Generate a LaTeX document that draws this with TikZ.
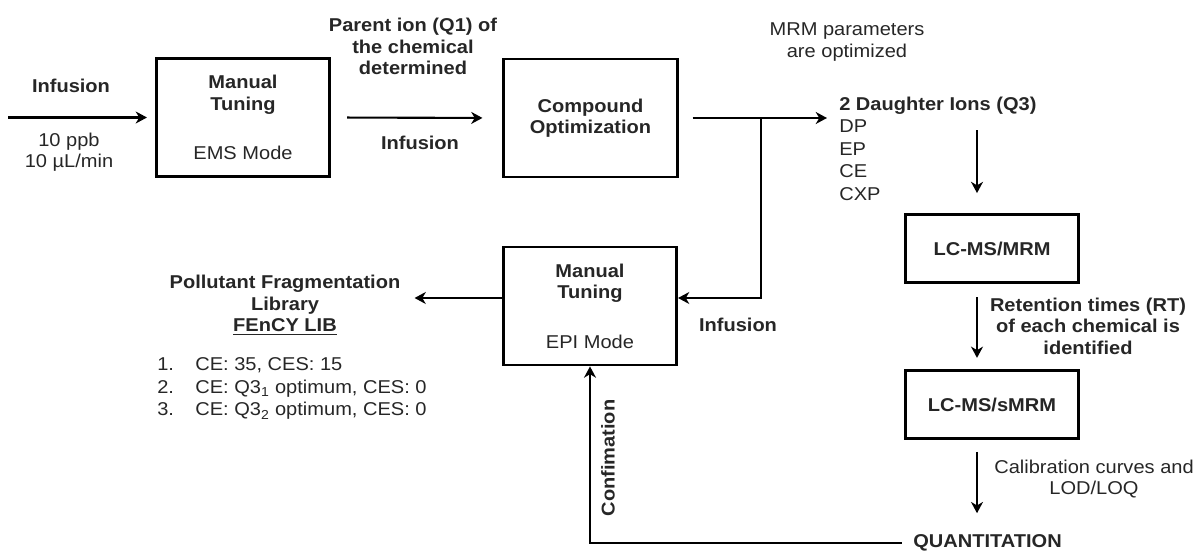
\documentclass[tikz,border=0pt]{standalone}
\usepackage{fontspec}
\setmainfont{Liberation Sans}[FakeStretch=1.08]
\usetikzlibrary{arrows.meta}

\newcommand\taille{\fontsize{13.2}{15.3}\selectfont}
\newcommand\tailleListe{\fontsize{13.2}{16}\selectfont}

\tikzset{
  boite/.style={draw, line width=2pt, minimum width=4.33cm, inner sep=0pt, align=center, font=\taille},
  grande/.style={boite, minimum height=2.95cm},
  petite/.style={boite, minimum height=1.7cm},
  texte/.style={inner sep=0pt, align=center, font=\taille},
  gras/.style={texte, font=\taille\bfseries},
  fleche/.style={line width=1.5pt, -{Stealth[length=8pt,width=8.5pt,inset=2.5pt]}},
}

\begin{document}
\begin{tikzpicture}[x=0.025cm, y=-0.025cm, text=black!85]
  \useasboundingbox (0,0) rectangle (1196,552);

  % les boites
  \node[grande] (EMSBox) at (243,117.5) {\textbf{Manual}\\\textbf{Tuning}\\[20pt]EMS Mode};
  \node[grande] (compBox) at (590.5,118) {\textbf{Compound}\\\textbf{Optimization}};
  \node[grande] (EPIBox) at (590,306) {\textbf{Manual}\\\textbf{Tuning}\\[20pt]EPI Mode};
  \node[petite] (MRMBox) at (992,248.5) {\textbf{LC-MS/MRM}};
  \node[petite] (sMRMBox) at (992,404.5) {\textbf{LC-MS/sMRM}};

  % les textes
  \node[gras] (infusionIn) at (71,86) {Infusion};
  \node[texte] (debit) at (69,152) {10 ppb\\10 µL/min};
  \node[gras] (parentIon) at (413,46.5) {Parent ion (Q1) of\\the chemical\\determined};
  \node[gras] (infusionMid) at (420,143) {Infusion};
  \node[texte] (MRMParams) at (847,42) {MRM parameters\\are optimized};
  \node[gras, anchor=west] (daughter) at (839,106) {2 Daughter Ions (Q3)};
  \node[texte, align=left, anchor=north west, font=\tailleListe] (params) at (839,119.5) {DP\\EP\\CE\\CXP};
  \node[gras] (retention) at (1088,326) {Retention times (RT)\\of each chemical is\\identified};
  \node[texte] (calibration) at (1094,479) {Calibration curves and\\LOD/LOQ};
  \node[gras, anchor=west] (quant) at (913,543) {QUANTITATION};
  \node[gras] (infusionEPI) at (738,325) {Infusion};
  \node[gras, rotate=90] (confirmation) at (608,458) {Confimation};
  \node[gras] (library) at (285,305) {Pollutant Fragmentation\\Library\\\underline{FEnCY LIB}};
  \node[texte, align=left, anchor=north west, font=\tailleListe] (libList) at (157,357.5)
    {\makebox[0.95cm][l]{1.}CE: 35, CES: 15\\
     \makebox[0.95cm][l]{2.}CE: Q3\textsubscript{1} optimum, CES: 0\\
     \makebox[0.95cm][l]{3.}CE: Q3\textsubscript{2} optimum, CES: 0};

  % points de passage des fleches
  \coordinate (depart) at (8,117.5);
  \coordinate (embranchement) at (761,118);
  \coordinate (axe) at (977,0);

  % chaine du haut
  \draw[fleche, shorten >=0.2cm] (depart) -- (EMSBox.west);
  \draw[fleche, shorten <=0.4cm, shorten >=0.5cm] (EMSBox.east) -- (compBox.west);
  \draw[fleche, shorten <=0.35cm, shorten >=0.3cm] (compBox.east) -- (compBox.east -| daughter.west);

  % retour vers le mode EPI puis la librairie
  \draw[fleche] (embranchement) |- ([yshift=0.2cm]EPIBox.east);
  \draw[fleche, shorten >=0.35cm] ([yshift=0.2cm]EPIBox.west) -- ([yshift=0.2cm]EPIBox.west -| library.east);

  % colonne de droite
  \draw[fleche, shorten <=0.38cm, shorten >=0.5cm] (daughter.south -| axe) -- (MRMBox.north -| axe);
  \draw[fleche, shorten <=0.33cm, shorten >=0.28cm] (MRMBox.south -| axe) -- (sMRMBox.north -| axe);
  \draw[fleche, shorten <=0.3cm, shorten >=0.53cm] (sMRMBox.south -| axe) -- (quant.north -| axe);

  % confirmation
  \draw[fleche, shorten <=0.28cm] (quant.west) -| (EPIBox.south);
\end{tikzpicture}
\end{document}
